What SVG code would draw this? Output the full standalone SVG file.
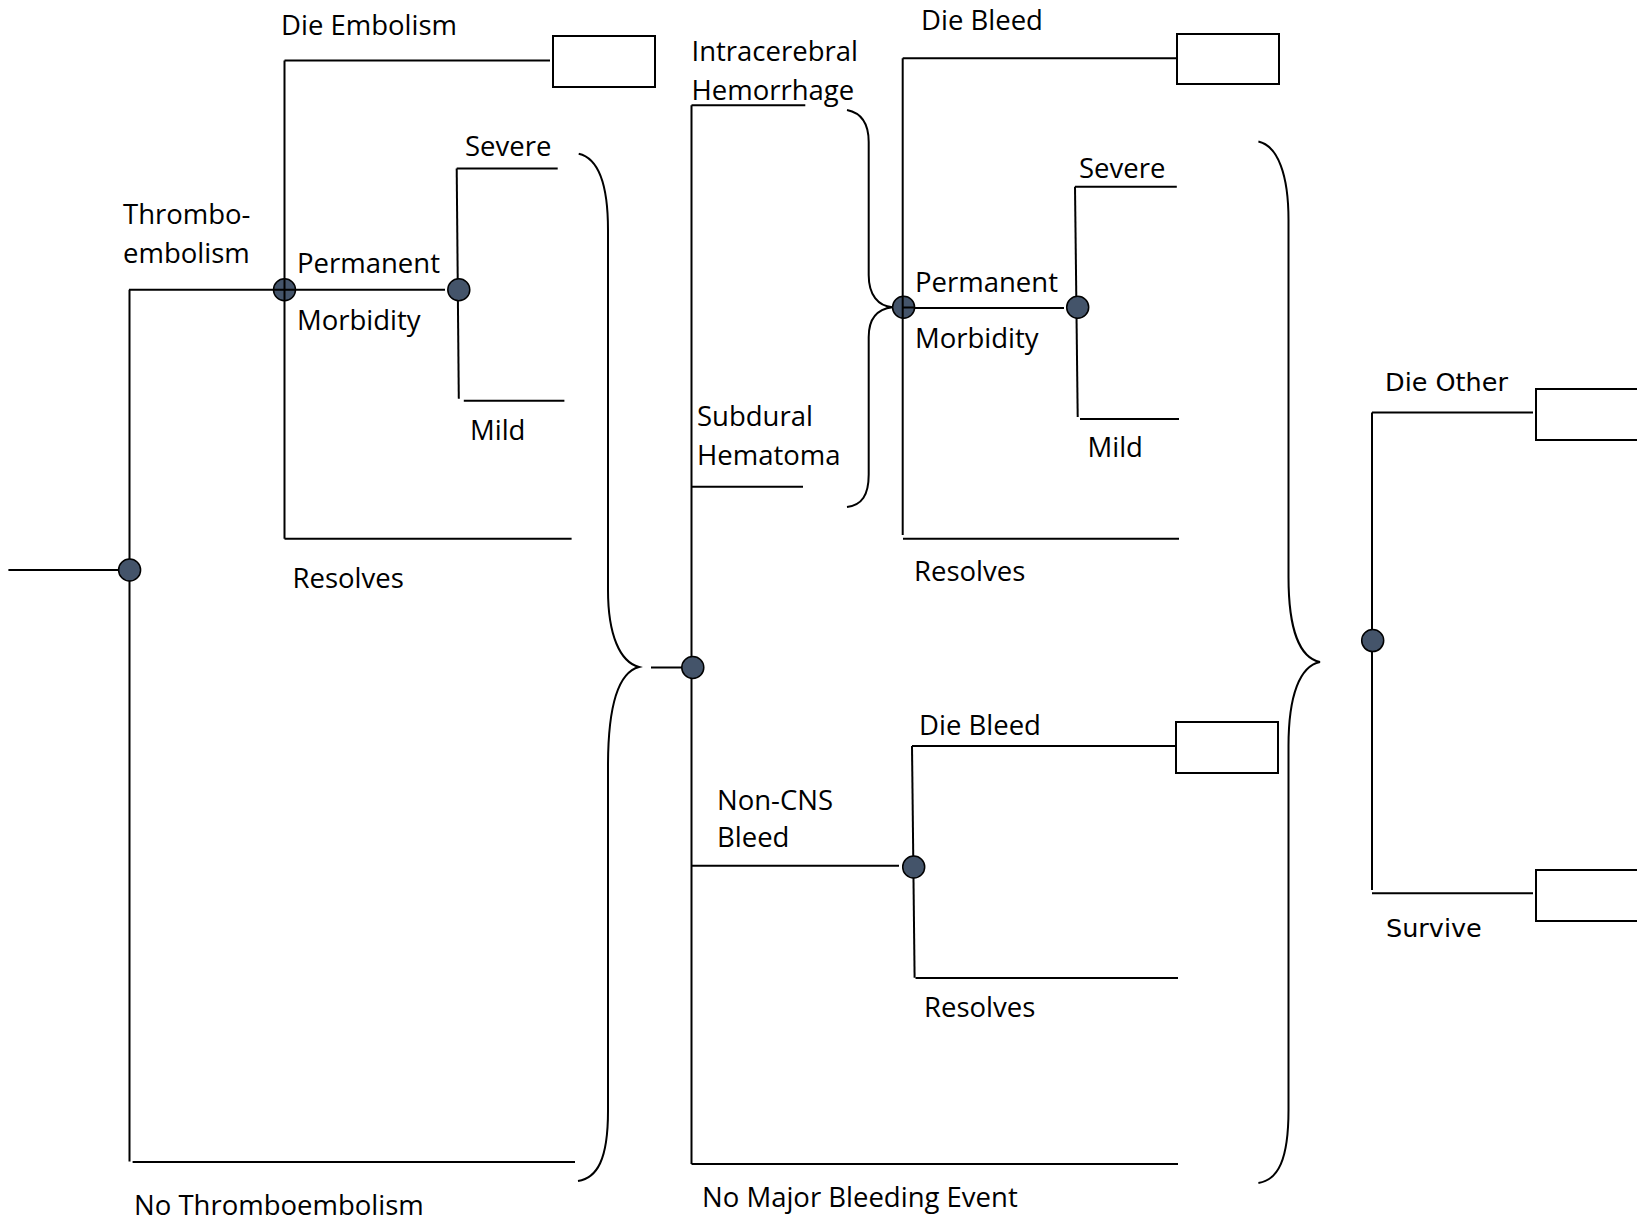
<svg xmlns="http://www.w3.org/2000/svg" width="1637" height="1222" viewBox="0 0 1637 1222">
<style>
.ln{stroke:#000;stroke-width:2;fill:none}
.br{stroke:#000;stroke-width:2;fill:none}
.nd{fill:#44546A;stroke:#000;stroke-width:1.5}
.bx{fill:#fff;stroke:#000;stroke-width:2}
text{font-family:"Open Sans","Liberation Sans",sans-serif;font-size:27.5px;fill:#000}
.alt{font-family:"DejaVu Sans","Liberation Sans",sans-serif;font-size:25.5px}
</style>
<rect width="1637" height="1222" fill="#fff"/>
<g id="connectors">
<path class="ln" d="M8.4 570 H129.6"/>
<path class="ln" d="M129.5 289.7 V1161.5"/>
<path class="ln" d="M129 289.7 H284.5"/>
<path class="ln" d="M132.6 1162 H575"/>
<path class="ln" d="M284.5 60.5 V538.8"/>
<path class="ln" d="M284.5 60.5 H550"/>
<path class="ln" d="M284.5 538.8 H571.6"/>
<path class="ln" d="M284.5 289.7 H445"/>
<path class="ln" d="M456.7 168.4 L458.8 398.8"/>
<path class="ln" d="M456.7 168.4 H557.7"/>
<path class="ln" d="M463.8 400.7 H564.4"/>
<path class="br" d="M578.7,153.8 C597,158 608,180 608,230 L608,590 C608,635 620,662 639,667 C620,672 608,700 608,766 L608,1111 C608,1160 597,1178 578,1181"/>
<path class="ln" d="M651 667.5 H692.8"/>
<path class="ln" d="M691.5 105.2 V1164"/>
<path class="ln" d="M691.5 105.2 H805.3"/>
<path class="ln" d="M691.5 486.8 H803"/>
<path class="ln" d="M691.5 865.8 H899"/>
<path class="ln" d="M691.5 1164 H1178"/>
<path class="br" d="M847,110 C862,113 868.7,125 868.7,142 L868.7,275 C868.7,295 878,306 892.4,307.3 C878,309 868.7,318 868.7,337 L868.7,474.5 C868.7,495 862,505 847,507"/>
<path class="ln" d="M902.7 58.2 V535"/>
<path class="ln" d="M902.7 58.2 H1177"/>
<path class="ln" d="M903 538.8 H1179"/>
<path class="ln" d="M903 308 H1064"/>
<path class="ln" d="M1075 186.8 L1077.7 417"/>
<path class="ln" d="M1075 186.8 H1176.8"/>
<path class="ln" d="M1080 419 H1179"/>
<path class="ln" d="M912 746 L914.6 977.7"/>
<path class="ln" d="M912 746 H1176"/>
<path class="ln" d="M915.5 978 H1178"/>
<path class="br" d="M1258.4,141.6 C1278,146 1288.5,175 1288.5,220 L1288.5,577 C1288.5,630 1300,658 1320,662 C1300,666 1288.5,695 1288.5,746 L1288.5,1110 C1288.5,1160 1278,1180 1258.4,1183"/>
<path class="ln" d="M1372 412.5 V890"/>
<path class="ln" d="M1372 412.5 H1533"/>
<path class="ln" d="M1372 893.3 H1533"/>
</g>
<g id="n0"><circle class="nd" cx="129.6" cy="570" r="11"/></g>
<g id="n1"><circle class="nd" cx="284.5" cy="289.7" r="11"/><path class="ln" d="M284.5 279 V300 M274 289.7 H295" stroke-width="1.5"/></g>
<g id="n2"><circle class="nd" cx="458.8" cy="289.7" r="11"/></g>
<g id="n3"><circle class="nd" cx="692.8" cy="667.5" r="11"/></g>
<g id="n4"><circle class="nd" cx="903.6" cy="307.3" r="11"/><path class="ln" d="M902.7 297 V318 M903 307.5 H914" stroke-width="1.5"/></g>
<g id="n5"><circle class="nd" cx="1077.7" cy="307.3" r="11"/></g>
<g id="n6"><circle class="nd" cx="913.7" cy="867" r="11"/></g>
<g id="n7"><circle class="nd" cx="1372.7" cy="640.6" r="11"/></g>
<g id="t1"><rect class="bx" x="553" y="36" width="102" height="51"/></g>
<g id="t2"><rect class="bx" x="1177" y="34" width="102" height="50"/></g>
<g id="t3"><rect class="bx" x="1176" y="722" width="102" height="51"/></g>
<g id="t4"><rect class="bx" x="1536" y="389" width="110" height="51"/></g>
<g id="t5"><rect class="bx" x="1536" y="870" width="110" height="51"/></g>
<g id="labels">
<text x="281" y="35">Die Embolism</text>
<text x="123" y="224">Thrombo-</text>
<text x="123" y="263">embolism</text>
<text x="297" y="272.5">Permanent</text>
<text x="297" y="330">Morbidity</text>
<text x="465" y="156">Severe</text>
<text x="470" y="440">Mild</text>
<text x="292.5" y="587.5">Resolves</text>
<text x="134" y="1215">No Thromboembolism</text>
<text x="691.5" y="61">Intracerebral</text>
<text x="691.5" y="99.5">Hemorrhage</text>
<text x="697" y="426">Subdural</text>
<text x="697" y="465">Hematoma</text>
<text x="921" y="30">Die Bleed</text>
<text x="915" y="291.6">Permanent</text>
<text x="915" y="348">Morbidity</text>
<text x="1079" y="178">Severe</text>
<text x="1087.5" y="457">Mild</text>
<text x="914" y="581">Resolves</text>
<text x="919" y="735">Die Bleed</text>
<text x="717" y="809.5">Non-CNS</text>
<text x="717" y="846.7">Bleed</text>
<text x="924" y="1017">Resolves</text>
<text x="702" y="1207">No Major Bleeding Event</text>
<text class="alt" x="1385" y="390.6">Die Other</text>
<text class="alt" x="1386" y="937">Survive</text>
</g>
</svg>
